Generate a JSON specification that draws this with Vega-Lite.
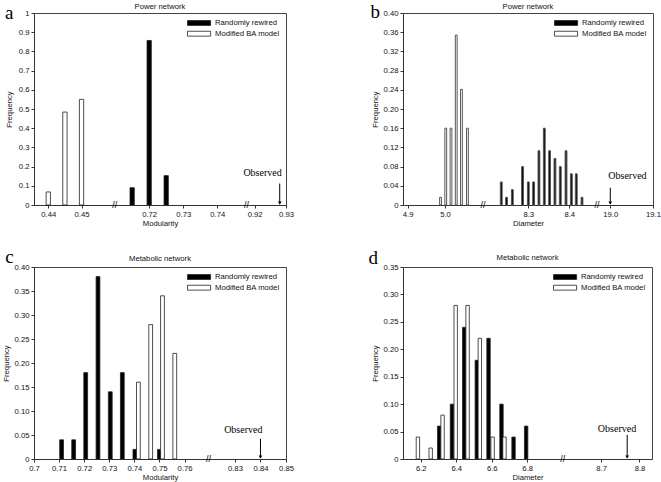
{
  "$schema": "https://vega.github.io/schema/vega-lite/v6.json",
  "background": "white",
  "padding": {"left": 2, "top": 1, "right": 0, "bottom": 0},
  "datasets": {
    "a": [
      {"model": "Randomly rewired", "x": 0.715, "freq": 0.09},
      {"model": "Randomly rewired", "x": 0.72, "freq": 0.857},
      {"model": "Randomly rewired", "x": 0.725, "freq": 0.153},
      {"model": "Modified BA model", "x": 0.44, "freq": 0.068},
      {"model": "Modified BA model", "x": 0.445, "freq": 0.484},
      {"model": "Modified BA model", "x": 0.45, "freq": 0.55}
    ],
    "b": [
      {"model": "Randomly rewired", "x": 8.234, "freq": 0.048},
      {"model": "Randomly rewired", "x": 8.247, "freq": 0.016},
      {"model": "Randomly rewired", "x": 8.261, "freq": 0.032},
      {"model": "Randomly rewired", "x": 8.286, "freq": 0.08},
      {"model": "Randomly rewired", "x": 8.3, "freq": 0.048},
      {"model": "Randomly rewired", "x": 8.313, "freq": 0.048},
      {"model": "Randomly rewired", "x": 8.326, "freq": 0.113},
      {"model": "Randomly rewired", "x": 8.339, "freq": 0.16},
      {"model": "Randomly rewired", "x": 8.352, "freq": 0.113},
      {"model": "Randomly rewired", "x": 8.365, "freq": 0.097},
      {"model": "Randomly rewired", "x": 8.378, "freq": 0.08},
      {"model": "Randomly rewired", "x": 8.392, "freq": 0.113},
      {"model": "Randomly rewired", "x": 8.405, "freq": 0.065},
      {"model": "Randomly rewired", "x": 8.417, "freq": 0.065},
      {"model": "Randomly rewired", "x": 8.431, "freq": 0.016},
      {"model": "Modified BA model", "x": 4.988, "freq": 0.016},
      {"model": "Modified BA model", "x": 5.002, "freq": 0.16},
      {"model": "Modified BA model", "x": 5.016, "freq": 0.16},
      {"model": "Modified BA model", "x": 5.03, "freq": 0.354},
      {"model": "Modified BA model", "x": 5.044, "freq": 0.241},
      {"model": "Modified BA model", "x": 5.06, "freq": 0.16}
    ],
    "c": [
      {"model": "Randomly rewired", "x": 0.711, "freq": 0.04},
      {"model": "Randomly rewired", "x": 0.7158, "freq": 0.04},
      {"model": "Randomly rewired", "x": 0.7206, "freq": 0.18},
      {"model": "Randomly rewired", "x": 0.7255, "freq": 0.38},
      {"model": "Randomly rewired", "x": 0.7304, "freq": 0.14},
      {"model": "Randomly rewired", "x": 0.7352, "freq": 0.18},
      {"model": "Randomly rewired", "x": 0.7402, "freq": 0.02},
      {"model": "Randomly rewired", "x": 0.75, "freq": 0.02},
      {"model": "Modified BA model", "x": 0.7416, "freq": 0.16},
      {"model": "Modified BA model", "x": 0.7465, "freq": 0.28},
      {"model": "Modified BA model", "x": 0.7512, "freq": 0.34},
      {"model": "Modified BA model", "x": 0.7561, "freq": 0.22}
    ],
    "d": [
      {"model": "Randomly rewired", "x": 6.304, "freq": 0.06},
      {"model": "Randomly rewired", "x": 6.376, "freq": 0.1},
      {"model": "Randomly rewired", "x": 6.445, "freq": 0.24},
      {"model": "Randomly rewired", "x": 6.516, "freq": 0.18},
      {"model": "Randomly rewired", "x": 6.582, "freq": 0.22},
      {"model": "Randomly rewired", "x": 6.655, "freq": 0.1},
      {"model": "Randomly rewired", "x": 6.723, "freq": 0.04},
      {"model": "Randomly rewired", "x": 6.794, "freq": 0.06},
      {"model": "Modified BA model", "x": 6.184, "freq": 0.04},
      {"model": "Modified BA model", "x": 6.256, "freq": 0.02},
      {"model": "Modified BA model", "x": 6.323, "freq": 0.08},
      {"model": "Modified BA model", "x": 6.397, "freq": 0.28},
      {"model": "Modified BA model", "x": 6.464, "freq": 0.28},
      {"model": "Modified BA model", "x": 6.533, "freq": 0.22},
      {"model": "Modified BA model", "x": 6.605, "freq": 0.04},
      {"model": "Modified BA model", "x": 6.672, "freq": 0.04}
    ]
  },
  "columns": 2,
  "spacing": {"row": 18, "column": 73},
  "resolve": {"scale": {"color": "independent"}, "legend": {"color": "independent"}},
  "concat": [
    {
      "title": {"text": "Power network", "offset": -7},
      "width": 252, "height": 192,
      "data": {"name": "a"},
      "resolve": {"axis": {"x": "independent"}},
      "encoding": {
        "x": {"type": "quantitative",
          "scale": {"domain": [0.4357, 0.46, 0.7099, 0.7486, 0.9174, 0.93], "range": [0, 80.8, 80.8, 212.5, 212.5, 252], "zero": false, "nice": false, "padding": 0}},
        "y": {"type": "quantitative", "scale": {"domain": [0, 1], "padding": 0, "nice": false},
          "axis": {"values": [0, 0.1, 0.2, 0.3, 0.4, 0.5, 0.6, 0.7, 0.8, 0.9, 1], "labelExpr": "format(datum.value, '~g')", "title": "Frequency", "minExtent": 17, "maxExtent": 17}}
      },
      "layer": [
        {
          "mark": {"type": "bar", "size": 4.3, "stroke": "#222", "strokeWidth": 0.8},
          "encoding": {
            "x": {"field": "x", "axis": {"values": [0.44, 0.45, 0.72, 0.73, 0.74, 0.92, 0.93], "format": ".2f", "title": "Modularity"}},
            "y": {"field": "freq"},
            "color": {"field": "model", "type": "nominal", "scale": {"domain": ["Randomly rewired", "Modified BA model"], "range": ["#000000", "#ffffff"]}, "legend": {"title": null}}
          }
        },
        {"data": {"values": [{"obs": 0.928}]}, "mark": {"type": "rule", "color": "black", "strokeWidth": 1}, "encoding": {"x": {"field": "obs", "axis": null}, "y": {"datum": 0.112}, "y2": {"datum": 0.004}}},
        {"data": {"values": [{"obs": 0.928}]}, "mark": {"type": "point", "shape": "triangle-down", "filled": true, "color": "black", "opacity": 1, "size": 14, "yOffset": -2}, "encoding": {"x": {"field": "obs", "axis": null}, "y": {"datum": 0}}},
        {"data": {"values": [{"obs": 0.928}]}, "mark": {"type": "text", "text": "Observed", "font": "Liberation Serif", "fontSize": 10, "align": "right", "baseline": "alphabetic", "dx": 2, "color": "black"}, "encoding": {"x": {"field": "obs", "axis": null}, "y": {"datum": 0.152}}},
        {"data": {"values": [{"brk": 0.6}, {"brk": 0.8}]}, "mark": {"type": "text", "text": "//", "fontSize": 9, "baseline": "middle", "align": "center", "color": "black"},
         "encoding": {"x": {"field": "brk", "axis": {"orient": "top", "title": "a", "labels": false, "ticks": false, "domain": false, "titleFont": "Liberation Serif", "titleFontSize": 19, "titleFontWeight": "normal", "titleColor": "black", "titleX": -29.5, "titleY": 5.3, "titleAlign": "left", "titleBaseline": "alphabetic", "titleAngle": 0}}, "y": {"datum": 0}}}
      ]
    },
    {
      "title": {"text": "Power network", "offset": -8},
      "width": 250, "height": 192,
      "data": {"name": "b"},
      "resolve": {"axis": {"x": "independent"}},
      "encoding": {
        "x": {"type": "quantitative",
          "scale": {"domain": [4.8877, 5.1016, 8.1895, 8.4676, 18.9689, 19.1], "range": [0, 80, 80, 194, 194, 250], "zero": false, "nice": false, "padding": 0}},
        "y": {"type": "quantitative", "scale": {"domain": [0, 0.4], "padding": 0, "nice": false},
          "axis": {"values": [0, 0.04, 0.08, 0.12, 0.16, 0.2, 0.24, 0.28, 0.32, 0.36, 0.4], "labelExpr": "datum.value == 0 ? '0' : format(datum.value, '.2f')", "title": "Frequency"}}
      },
      "layer": [
        {
          "mark": {"type": "bar", "size": 1.8, "stroke": "#555", "strokeWidth": 1},
          "encoding": {
            "x": {"field": "x", "axis": {"values": [4.9, 5.0, 8.3, 8.4, 19.0, 19.1], "format": ".1f", "title": "Diameter"}},
            "y": {"field": "freq"},
            "color": {"field": "model", "type": "nominal", "scale": {"domain": ["Randomly rewired", "Modified BA model"], "range": ["#000000", "#ffffff"]}, "legend": {"title": null}}
          }
        },
        {"data": {"values": [{"obs": 19.0}]}, "mark": {"type": "rule", "color": "black", "strokeWidth": 1}, "encoding": {"x": {"field": "obs", "axis": null}, "y": {"datum": 0.036}, "y2": {"datum": 0.002}}},
        {"data": {"values": [{"obs": 19.0}]}, "mark": {"type": "point", "shape": "triangle-down", "filled": true, "color": "black", "opacity": 1, "size": 14, "yOffset": -2}, "encoding": {"x": {"field": "obs", "axis": null}, "y": {"datum": 0}}},
        {"data": {"values": [{"obs": 19.0}]}, "mark": {"type": "text", "text": "Observed", "font": "Liberation Serif", "fontSize": 10, "align": "left", "baseline": "alphabetic", "dx": -2, "color": "black"}, "encoding": {"x": {"field": "obs", "axis": null}, "y": {"datum": 0.054}}},
        {"data": {"values": [{"brk": 6.5}, {"brk": 13}]}, "mark": {"type": "text", "text": "//", "fontSize": 9, "baseline": "middle", "align": "center", "color": "black"},
         "encoding": {"x": {"field": "brk", "axis": {"orient": "top", "title": "b", "labels": false, "ticks": false, "domain": false, "titleFont": "Liberation Serif", "titleFontSize": 19, "titleFontWeight": "normal", "titleColor": "black", "titleX": -33, "titleY": 4.3, "titleAlign": "left", "titleBaseline": "alphabetic", "titleAngle": 0}}, "y": {"datum": 0}}}
      ]
    },
    {
      "title": {"text": "Metabolic network", "offset": -16},
      "width": 252, "height": 192,
      "data": {"name": "c"},
      "resolve": {"axis": {"x": "independent"}},
      "encoding": {
        "x": {"type": "quantitative",
          "scale": {"domain": [0.7, 0.7695, 0.8196, 0.85], "range": [0, 174.4, 174.4, 252], "zero": false, "nice": false, "padding": 0}},
        "y": {"type": "quantitative", "scale": {"domain": [0, 0.4], "padding": 0, "nice": false},
          "axis": {"values": [0, 0.05, 0.1, 0.15, 0.2, 0.25, 0.3, 0.35, 0.4], "labelExpr": "datum.value == 0 ? '0' : format(datum.value, '.2f')", "title": "Frequency"}}
      },
      "layer": [
        {
          "mark": {"type": "bar", "size": 3.8, "stroke": "#222", "strokeWidth": 0.8},
          "encoding": {
            "x": {"field": "x", "axis": {"values": [0.7, 0.71, 0.72, 0.73, 0.74, 0.75, 0.76, 0.83, 0.84, 0.85], "format": "~g", "title": "Modularity"}},
            "y": {"field": "freq"},
            "color": {"field": "model", "type": "nominal", "scale": {"domain": ["Randomly rewired", "Modified BA model"], "range": ["#000000", "#ffffff"]}, "legend": {"title": null}}
          }
        },
        {"data": {"values": [{"obs": 0.84}]}, "mark": {"type": "rule", "color": "black", "strokeWidth": 1}, "encoding": {"x": {"field": "obs", "axis": null}, "y": {"datum": 0.042}, "y2": {"datum": 0.002}}},
        {"data": {"values": [{"obs": 0.84}]}, "mark": {"type": "point", "shape": "triangle-down", "filled": true, "color": "black", "opacity": 1, "size": 14, "yOffset": -2}, "encoding": {"x": {"field": "obs", "axis": null}, "y": {"datum": 0}}},
        {"data": {"values": [{"obs": 0.84}]}, "mark": {"type": "text", "text": "Observed", "font": "Liberation Serif", "fontSize": 10, "align": "right", "baseline": "alphabetic", "dx": 2, "color": "black"}, "encoding": {"x": {"field": "obs", "axis": null}, "y": {"datum": 0.055}}},
        {"data": {"values": [{"brk": 0.79}]}, "mark": {"type": "text", "text": "//", "fontSize": 9, "baseline": "middle", "align": "center", "color": "black"},
         "encoding": {"x": {"field": "brk", "axis": {"orient": "top", "title": "c", "labels": false, "ticks": false, "domain": false, "titleFont": "Liberation Serif", "titleFontSize": 19, "titleFontWeight": "normal", "titleColor": "black", "titleX": -29.3, "titleY": -5, "titleAlign": "left", "titleBaseline": "alphabetic", "titleAngle": 0}}, "y": {"datum": 0}}}
      ]
    },
    {
      "title": {"text": "Metabolic network", "offset": -13.5},
      "width": 249, "height": 192,
      "data": {"name": "d"},
      "resolve": {"axis": {"x": "independent"}},
      "encoding": {
        "x": {"type": "quantitative",
          "scale": {"domain": [6.1, 7.0, 8.6, 8.8326], "range": [0, 159.7, 159.7, 249], "zero": false, "nice": false, "padding": 0}},
        "y": {"type": "quantitative", "scale": {"domain": [0, 0.35], "padding": 0, "nice": false},
          "axis": {"values": [0, 0.05, 0.1, 0.15, 0.2, 0.25, 0.3, 0.35], "labelExpr": "datum.value == 0 ? '0' : format(datum.value, '.2f')", "title": "Frequency"}}
      },
      "layer": [
        {
          "mark": {"type": "bar", "size": 3.4, "stroke": "#222", "strokeWidth": 0.8},
          "encoding": {
            "x": {"field": "x", "axis": {"values": [6.2, 6.4, 6.6, 6.8, 8.7, 8.8], "format": ".1f", "title": "Diameter"}},
            "y": {"field": "freq"},
            "color": {"field": "model", "type": "nominal", "scale": {"domain": ["Randomly rewired", "Modified BA model"], "range": ["#000000", "#ffffff"]}, "legend": {"title": null}}
          }
        },
        {"data": {"values": [{"obs": 8.768}]}, "mark": {"type": "rule", "color": "black", "strokeWidth": 1}, "encoding": {"x": {"field": "obs", "axis": null}, "y": {"datum": 0.044}, "y2": {"datum": 0.002}}},
        {"data": {"values": [{"obs": 8.768}]}, "mark": {"type": "point", "shape": "triangle-down", "filled": true, "color": "black", "opacity": 1, "size": 14, "yOffset": -2}, "encoding": {"x": {"field": "obs", "axis": null}, "y": {"datum": 0}}},
        {"data": {"values": [{"obs": 8.768}]}, "mark": {"type": "text", "text": "Observed", "font": "Liberation Serif", "fontSize": 10, "align": "right", "baseline": "alphabetic", "dx": 9, "color": "black"}, "encoding": {"x": {"field": "obs", "axis": null}, "y": {"datum": 0.05}}},
        {"data": {"values": [{"brk": 7.8}]}, "mark": {"type": "text", "text": "//", "fontSize": 9, "baseline": "middle", "align": "center", "color": "black"},
         "encoding": {"x": {"field": "brk", "axis": {"orient": "top", "title": "d", "labels": false, "ticks": false, "domain": false, "titleFont": "Liberation Serif", "titleFontSize": 19, "titleFontWeight": "normal", "titleColor": "black", "titleX": -35, "titleY": -4, "titleAlign": "left", "titleBaseline": "alphabetic", "titleAngle": 0}}, "y": {"datum": 0}}}
      ]
    }
  ],
  "config": {
    "font": "Liberation Sans",
    "view": {"stroke": "#444", "strokeWidth": 1},
    "title": {"font": "Liberation Sans", "fontSize": 7.7, "fontWeight": "normal", "color": "#111", "anchor": "middle"},
    "axis": {"grid": false, "tickSize": 3, "labelFont": "Liberation Sans", "titleFont": "Liberation Sans", "labelFontSize": 7.7, "titleFontSize": 7.7, "titleFontWeight": "normal", "labelColor": "#111", "titleColor": "#111", "domainColor": "#333", "tickColor": "#333", "labelPadding": 2, "titlePadding": 2, "labelFlush": false, "labelOverlap": false},
    "axisY": {"minExtent": 20, "maxExtent": 20, "titlePadding": 3.5},
    "legend": {"orient": "top-right", "offset": 6, "padding": 0, "labelFont": "Liberation Sans", "labelFontSize": 7.7, "labelColor": "#111", "symbolType": "M-1,-0.7H5.6V0.7H-1Z", "symbolSize": 49, "symbolStrokeColor": "#222", "symbolStrokeWidth": 0.8, "labelOffset": 20, "rowPadding": 0.7}
  }
}
